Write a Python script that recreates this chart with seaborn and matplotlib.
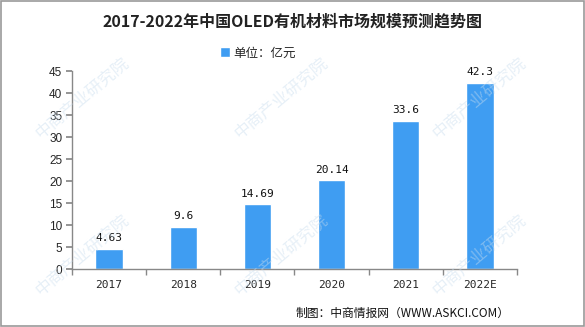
import matplotlib
matplotlib.use("Agg")
import matplotlib.pyplot as plt
import seaborn as sns
import pandas as pd
import numpy as np

years = ["2017", "2018", "2019", "2020", "2021", "2022E"]
values = [4.63, 9.6, 14.69, 20.14, 33.6, 42.3]
value_labels = ["4.63", "9.6", "14.69", "20.14", "33.6", "42.3"]
y_ticks = [0, 5, 10, 15, 20, 25, 30, 35, 40, 45]

title = "2017-2022年中国OLED有机材料市场规模预测趋势图"
legend_label = "单位：亿元"
source = "制图：中商情报网（WWW.ASKCI.COM）"
watermark = "中商产业研究院"

sns.set_theme(style="white")
plt.rcParams["font.family"] = ["Noto Sans CJK SC", "DejaVu Sans"]

bar_color = "#3F9DF2"
df = pd.DataFrame({"year": years, "value": values})

fig = plt.figure(figsize=(5.85, 3.27), dpi=100)
ax = fig.add_axes([72 / 585, 1 - 269 / 327, 445 / 585, 198 / 327])

sns.barplot(data=df, x="year", y="value", color=bar_color, width=0.37,
            saturation=1, ax=ax, label=legend_label)

# faint diagonal watermark
for (wx, wy) in [(0.14, 0.70), (0.48, 0.70), (0.82, 0.70), (0.14, 0.22), (0.48, 0.22), (0.82, 0.22)]:
    fig.text(wx, wy, watermark, fontsize=12, color="#C9DDEE", rotation=40,
             ha="center", va="center", zorder=5, alpha=0.45)

for i, (v, lab) in enumerate(zip(values, value_labels)):
    ax.text(i, v + 1.3, lab, ha="center", va="bottom", fontsize=8,
            family=["DejaVu Sans Mono", "DejaVu Sans"], color="#111111")

ax.set_ylim(0, 45)
ax.set_xlim(-0.5, len(years) - 0.5)
ax.set_yticks(y_ticks)
ax.set_yticklabels([str(t) for t in y_ticks], fontsize=8.5, family=["Liberation Sans"])
ax.set_xticks(range(len(years)))
ax.set_xticklabels(years, fontsize=8, family=["DejaVu Sans Mono"])
ax.set_xlabel("")
ax.set_ylabel("")

# boundary ticks on the x axis
ax.set_xticks(np.arange(-0.5, len(years), 1.0), minor=True)
ax.tick_params(axis="x", which="major", length=0, pad=8)
ax.tick_params(axis="x", which="minor", length=4, color="#888888", direction="out", bottom=True)
ax.tick_params(axis="y", length=4, color="#888888", direction="out", left=True, pad=3)

for s in ["top", "right"]:
    ax.spines[s].set_visible(False)
for s in ["left", "bottom"]:
    ax.spines[s].set_color("#888888")
    ax.spines[s].set_linewidth(1)
ax.patch.set_alpha(0)

fig.text(0.5, 1 - 22 / 327, title, ha="center", va="center", fontsize=11.5,
         fontweight="bold", color="#222222")
leg = ax.legend(loc="center", bbox_to_anchor=(258 / 585, 1 - 53 / 327),
                bbox_transform=fig.transFigure, frameon=False, fontsize=9,
                handlelength=0.8, handleheight=0.8, handletextpad=0.3)
fig.text(510 / 585, 1 - 313 / 327, source, ha="right", va="center", fontsize=8.5,
         color="#111111")

# outer frame
fig.patches.append(plt.Rectangle((0.002, 0.003), 0.996, 0.994, transform=fig.transFigure,
                                 fill=False, edgecolor="#999999", linewidth=1.2))

fig.savefig("out.png", dpi=100)
